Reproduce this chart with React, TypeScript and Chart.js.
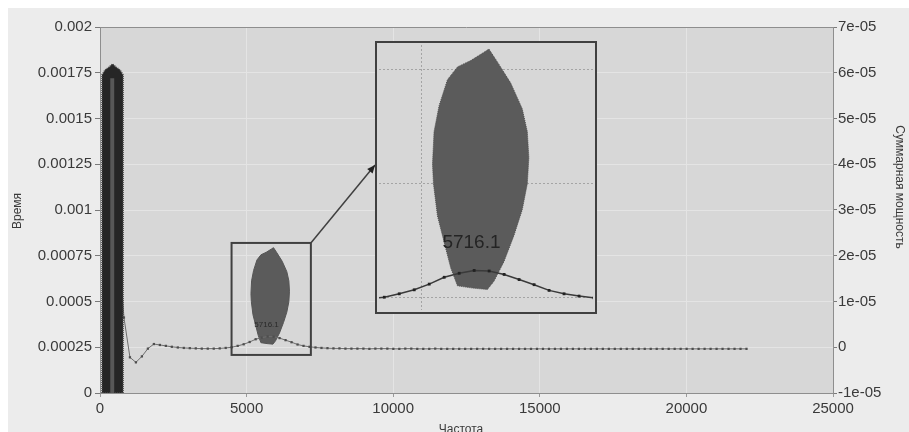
import React, { useEffect, useRef } from 'react';
import { Chart, registerables } from 'chart.js';

Chart.register(...registerables);

const FONT_FAMILY = '"Liberation Sans", Arial, Helvetica, sans-serif';

// ---- texts ----
const X_TITLE = 'Частота';
const Y_TITLE = 'Время';
const Y2_TITLE = 'Суммарная мощность';
const PEAK_LABEL = '5716.1';

// ---- axes ----
const FREQ_RANGE = [0, 25000];
const FREQ_STEP = 5000;
const TIME_RANGE = [0, 0.002];
const TIME_STEP = 0.00025;
const POWER_RANGE = [-1e-5, 7e-5];
const POWER_STEP = 1e-5;

// ---- total power line (right axis), one value per FFT bin, in units of 1e-6 ----
const BIN_HZ = 22050 / 108;
const FIRST_BIN = 3;
const POWER_E6 = [
  25, 6.5, -2.2, -3.3, -2.0, -0.3, 0.7, 0.5, 0.3, 0.1,
  -0.05, -0.15, -0.2, -0.25, -0.3, -0.3, -0.3, -0.25, -0.15, 0.0,
  0.3, 0.65, 1.15, 1.75, 2.1, 2.35, 2.3, 2.0, 1.55, 1.1,
  0.6, 0.3, 0.1, -0.05, -0.15, -0.2, -0.25, -0.25, -0.3, -0.3,
  -0.3, -0.3, -0.35, -0.3, -0.3, -0.3, -0.35, -0.35, -0.3, -0.3,
  -0.35, -0.35, -0.35, -0.3, -0.35, -0.35, -0.35, -0.35, -0.35, -0.35,
  -0.35, -0.35, -0.35, -0.35, -0.35, -0.35, -0.35, -0.35, -0.35, -0.35,
  -0.35, -0.35, -0.35, -0.35, -0.35, -0.35, -0.35, -0.35, -0.35, -0.35,
  -0.35, -0.35, -0.35, -0.35, -0.35, -0.35, -0.35, -0.35, -0.35, -0.35,
  -0.35, -0.35, -0.35, -0.35, -0.35, -0.35, -0.35, -0.35, -0.35, -0.35,
  -0.35, -0.35, -0.35, -0.35, -0.35, -0.35,
];

// ---- low-frequency time column (left axis) ----
const COLUMN_FREQ = [68, 68, 171, 308, 428, 548, 685, 788, 788, 68];
const COLUMN_TIME = [0, 0.001738, 0.001765, 0.001781, 0.001798, 0.001781, 0.001765, 0.001738, 0, 0];
const STRIPE_FREQ = [350, 350, 485, 485, 350];
const STRIPE_TIME = [0, 0.00172, 0.00172, 0, 0];

// ---- time blob around the peak (left axis) ----
const BLOB_FREQ = [
  5918, 6033, 6213, 6372, 6441, 6462, 6441, 6372, 6258, 6122, 5986, 5897, 5697,
  5489, 5398, 5307, 5217, 5162, 5149, 5170, 5239, 5353, 5489, 5670, 5850, 5918,
];
const BLOB_TIME = [
  0.000794, 0.000766, 0.00072, 0.000663, 0.000613, 0.000556, 0.000499, 0.000442, 0.000385, 0.000328, 0.000285, 0.000267, 0.00027,
  0.000275, 0.000314, 0.000371, 0.000428, 0.000499, 0.000542, 0.000613, 0.00067, 0.000727, 0.000755, 0.000769, 0.000787, 0.000794,
];
const PEAK_LABEL_FREQ = 5680;
const PEAK_LABEL_TIME = 0.00037;

// ---- zoom window ----
const ZOOM_FREQ = [4487, 7192];
const ZOOM_TIME = [0.000208, 0.00082];
const INSET_FREQ = [4420, 7336];
const INSET_TIME = [0.000222, 0.000803];
const INSET_GRID_FREQ = [5000];
const INSET_GRID_TIME = [0.00025, 0.0005, 0.00075];

// ---- layout / style ----
const W = 901;
const H = 424;
const INSET_BOX = { left: 367, top: 33, width: 222, height: 273 };
const CONNECTOR_END = { x: 367, y: 157 };
const PAGE_BG = '#ececec';
const PLOT_BG = '#d7d7d7';
const GRID = '#e4e4e4';
const AXIS = '#8e8e8e';
const TEXT = '#3a3a3a';
const FRAME = '#404040';

const pts = (xs: number[], ys: number[]) => xs.map((x, i) => ({ x, y: ys[i] }));
const powerPoints = () => POWER_E6.map((v, i) => ({ x: (FIRST_BIN + i) * BIN_HZ, y: v * 1e-6 }));

const fmtTime = (v: number) => (Math.abs(v) < 1e-12 ? '0' : String(parseFloat(v.toFixed(6))));
const fmtPower = (v: number) => {
  const n = Math.round(v / 1e-5);
  return n === 0 ? '0' : `${n}e-05`;
};
const timeToPower = (t: number) =>
  POWER_RANGE[0] + ((t - TIME_RANGE[0]) / (TIME_RANGE[1] - TIME_RANGE[0])) * (POWER_RANGE[1] - POWER_RANGE[0]);

export default function App() {
  const mainRef = useRef<HTMLCanvasElement>(null);
  const insetRef = useRef<HTMLCanvasElement>(null);

  useEffect(() => {
    const tickFont = { family: FONT_FAMILY, size: 15 };

    const mainDecor = {
      id: 'mainDecor',
      beforeDraw(chart: any) {
        const { ctx, chartArea: a } = chart;
        ctx.save();
        ctx.fillStyle = PLOT_BG;
        ctx.fillRect(a.left, a.top, a.right - a.left, a.bottom - a.top);
        ctx.restore();
      },
      afterDatasetsDraw(chart: any) {
        const { ctx, chartArea: a, scales } = chart;
        const sx = scales.x;
        const sy = scales.y;
        ctx.save();
        ctx.strokeStyle = AXIS;
        ctx.lineWidth = 1;
        ctx.beginPath();
        ctx.moveTo(a.left, a.top + 0.5);
        ctx.lineTo(a.right, a.top + 0.5);
        ctx.stroke();
        ctx.fillStyle = '#2a2a2a';
        ctx.font = `8px ${FONT_FAMILY}`;
        ctx.textAlign = 'center';
        ctx.textBaseline = 'middle';
        ctx.fillText(PEAK_LABEL, sx.getPixelForValue(PEAK_LABEL_FREQ), sy.getPixelForValue(PEAK_LABEL_TIME));
        const x0 = sx.getPixelForValue(ZOOM_FREQ[0]);
        const x1 = sx.getPixelForValue(ZOOM_FREQ[1]);
        const y0 = sy.getPixelForValue(ZOOM_TIME[1]);
        const y1 = sy.getPixelForValue(ZOOM_TIME[0]);
        ctx.strokeStyle = FRAME;
        ctx.lineWidth = 2;
        ctx.strokeRect(x0, y0, x1 - x0, y1 - y0);
        ctx.lineWidth = 1.5;
        ctx.beginPath();
        ctx.moveTo(x1, y0);
        ctx.lineTo(CONNECTOR_END.x, CONNECTOR_END.y);
        ctx.stroke();
        const ang = Math.atan2(CONNECTOR_END.y - y0, CONNECTOR_END.x - x1);
        const L = 8;
        const Wd = 3.5;
        ctx.fillStyle = '#222';
        ctx.beginPath();
        ctx.moveTo(CONNECTOR_END.x, CONNECTOR_END.y);
        ctx.lineTo(
          CONNECTOR_END.x - L * Math.cos(ang) + Wd * Math.sin(ang),
          CONNECTOR_END.y - L * Math.sin(ang) - Wd * Math.cos(ang)
        );
        ctx.lineTo(
          CONNECTOR_END.x - L * Math.cos(ang) - Wd * Math.sin(ang),
          CONNECTOR_END.y - L * Math.sin(ang) + Wd * Math.cos(ang)
        );
        ctx.closePath();
        ctx.fill();
        ctx.restore();
      },
      afterDraw(chart: any) {
        const { ctx } = chart;
        ctx.save();
        ctx.fillStyle = TEXT;
        ctx.font = `12px ${FONT_FAMILY}`;
        ctx.textAlign = 'center';
        ctx.textBaseline = 'middle';
        ctx.save();
        ctx.translate(10, 203);
        ctx.rotate(-Math.PI / 2);
        ctx.fillText(Y_TITLE, 0, 0);
        ctx.restore();
        ctx.save();
        ctx.translate(891, 179);
        ctx.rotate(Math.PI / 2);
        ctx.fillText(Y2_TITLE, 0, 0);
        ctx.restore();
        ctx.fillText(X_TITLE, 453, 422);
        ctx.restore();
      },
    };

    const main = new Chart(mainRef.current as HTMLCanvasElement, {
      type: 'scatter',
      data: {
        datasets: [
          {
            label: 'stripe',
            data: pts(STRIPE_FREQ, STRIPE_TIME),
            yAxisID: 'y',
            showLine: true,
            fill: 'shape',
            backgroundColor: '#585858',
            borderColor: '#585858',
            borderWidth: 0,
            pointRadius: 0,
            order: -1,
          },
          {
            label: 'column',
            data: pts(COLUMN_FREQ, COLUMN_TIME),
            yAxisID: 'y',
            showLine: true,
            fill: 'shape',
            backgroundColor: '#262626',
            borderColor: '#4a4a4a',
            borderWidth: 1.5,
            borderDash: [1, 1],
            pointRadius: 0,
            order: 0,
          },
          {
            label: 'power',
            data: powerPoints(),
            yAxisID: 'yR',
            showLine: true,
            fill: false,
            borderColor: '#6e6e6e',
            borderWidth: 1,
            pointStyle: 'rect',
            pointRadius: 1.6,
            pointBackgroundColor: '#4e4e4e',
            pointBorderWidth: 0,
            order: 1,
          },
          {
            label: 'blob',
            data: pts(BLOB_FREQ, BLOB_TIME),
            yAxisID: 'y',
            showLine: true,
            fill: 'shape',
            backgroundColor: '#5b5b5b',
            borderColor: '#555555',
            borderWidth: 1,
            pointRadius: 0,
            order: 2,
          },
        ],
      },
      options: {
        responsive: false,
        devicePixelRatio: 1,
        animation: false,
        events: [],
        layout: { padding: { top: 19, left: 0, right: 0, bottom: 0 } },
        plugins: { legend: { display: false }, tooltip: { enabled: false } },
        scales: {
          x: {
            type: 'linear',
            position: 'bottom',
            min: FREQ_RANGE[0],
            max: FREQ_RANGE[1],
            ticks: {
              stepSize: FREQ_STEP,
              font: tickFont,
              color: TEXT,
              padding: 3,
              maxRotation: 0,
              autoSkip: false,
              callback: (v: any) => String(Math.round(Number(v))),
            },
            grid: { color: GRID, tickColor: '#9a9a9a', tickLength: 4 },
            border: { color: AXIS },
            afterFit: (s: any) => { s.height = 39; },
          },
          y: {
            type: 'linear',
            position: 'left',
            min: TIME_RANGE[0],
            max: TIME_RANGE[1],
            ticks: { stepSize: TIME_STEP, font: tickFont, color: TEXT, padding: 3, callback: (v: any) => fmtTime(Number(v)) },
            grid: { color: GRID, tickColor: '#7a7a7a', tickLength: 5 },
            border: { color: AXIS },
            afterFit: (s: any) => { s.width = 92; },
          },
          yR: {
            type: 'linear',
            position: 'right',
            min: POWER_RANGE[0],
            max: POWER_RANGE[1],
            ticks: { stepSize: POWER_STEP, font: tickFont, color: TEXT, padding: 1, callback: (v: any) => fmtPower(Number(v)) },
            grid: { drawOnChartArea: false, tickColor: '#7a7a7a', tickLength: 4 },
            border: { color: AXIS },
            afterFit: (s: any) => { s.width = 76; },
          },
        },
      },
      plugins: [mainDecor],
    } as any);

    const insetDecor = {
      id: 'insetDecor',
      beforeDraw(chart: any) {
        const { ctx, width, height } = chart;
        ctx.save();
        ctx.fillStyle = PLOT_BG;
        ctx.fillRect(0, 0, width, height);
        ctx.restore();
      },
      afterDatasetsDraw(chart: any) {
        const { ctx, scales } = chart;
        ctx.save();
        ctx.fillStyle = '#242424';
        ctx.font = `19px ${FONT_FAMILY}`;
        ctx.textAlign = 'center';
        ctx.textBaseline = 'middle';
        ctx.fillText(PEAK_LABEL, scales.x.getPixelForValue(PEAK_LABEL_FREQ), scales.y.getPixelForValue(PEAK_LABEL_TIME));
        ctx.restore();
      },
      afterDraw(chart: any) {
        const { ctx, width, height } = chart;
        ctx.save();
        ctx.strokeStyle = FRAME;
        ctx.lineWidth = 2;
        ctx.strokeRect(1, 1, width - 2, height - 2);
        ctx.restore();
      },
    };

    const inset = new Chart(insetRef.current as HTMLCanvasElement, {
      type: 'scatter',
      data: {
        datasets: [
          {
            label: 'power',
            data: powerPoints(),
            yAxisID: 'yR',
            showLine: true,
            fill: false,
            borderColor: '#3a3a3a',
            borderWidth: 1.5,
            pointStyle: 'rect',
            pointRadius: 2,
            pointBackgroundColor: '#222',
            pointBorderWidth: 0,
            order: 0,
          },
          {
            label: 'blob',
            data: pts(BLOB_FREQ, BLOB_TIME),
            yAxisID: 'y',
            showLine: true,
            fill: 'shape',
            backgroundColor: '#5b5b5b',
            borderColor: '#4f4f4f',
            borderWidth: 1,
            borderDash: [1, 1],
            pointRadius: 0,
            order: 1,
          },
        ],
      },
      options: {
        responsive: false,
        devicePixelRatio: 1,
        animation: false,
        events: [],
        layout: { padding: 0 },
        plugins: { legend: { display: false }, tooltip: { enabled: false } },
        scales: {
          x: {
            type: 'linear',
            min: INSET_FREQ[0],
            max: INSET_FREQ[1],
            ticks: { display: false },
            grid: { color: '#a4a4a4', drawTicks: false },
            border: { display: false, dash: [2, 2] },
            afterBuildTicks: (s: any) => { s.ticks = INSET_GRID_FREQ.map((value) => ({ value })); },
            afterFit: (s: any) => { s.height = 0; },
          },
          y: {
            type: 'linear',
            position: 'left',
            min: INSET_TIME[0],
            max: INSET_TIME[1],
            ticks: { display: false },
            grid: { color: '#a4a4a4', drawTicks: false },
            border: { display: false, dash: [2, 2] },
            afterBuildTicks: (s: any) => { s.ticks = INSET_GRID_TIME.map((value) => ({ value })); },
            afterFit: (s: any) => { s.width = 0; },
          },
          yR: {
            type: 'linear',
            position: 'right',
            display: false,
            min: timeToPower(INSET_TIME[0]),
            max: timeToPower(INSET_TIME[1]),
          },
        },
      },
      plugins: [insetDecor],
    } as any);

    return () => {
      main.destroy();
      inset.destroy();
    };
  }, []);

  return (
    <div style={{ position: 'fixed', left: 8, top: 8, width: W, height: H, background: PAGE_BG, overflow: 'hidden' }}>
      <canvas ref={mainRef} width={W} height={H} style={{ position: 'absolute', left: 0, top: 0, width: W, height: H }} />
      <canvas
        ref={insetRef}
        width={INSET_BOX.width}
        height={INSET_BOX.height}
        style={{ position: 'absolute', left: INSET_BOX.left, top: INSET_BOX.top, width: INSET_BOX.width, height: INSET_BOX.height }}
      />
    </div>
  );
}
